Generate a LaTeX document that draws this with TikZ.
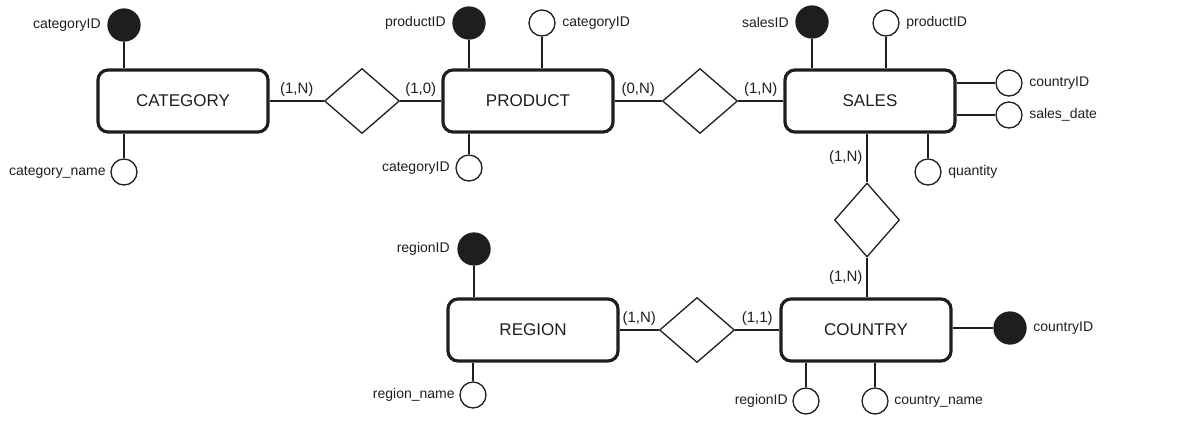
\documentclass[tikz,border=0pt]{standalone}
\usepackage{fontspec}
\setmainfont{Liberation Sans}
\usetikzlibrary{shapes.geometric,positioning}
\definecolor{ink}{HTML}{1E1E1E}

\begin{document}
\begin{tikzpicture}[x=1pt,y=-1pt,line width=1.3pt,draw=ink,text=ink,
  entity/.style={draw,line width=3.2pt,rounded corners=10pt,minimum width=170pt,minimum height=62pt,font=\fontsize{17}{19}\selectfont},
  rel/.style={draw,diamond,inner sep=0pt,minimum width=75pt,minimum height=65pt},
  keyattr/.style={circle,draw,fill=ink,inner sep=0pt,minimum size=32pt},
  attr/.style={circle,draw,inner sep=0pt,minimum size=26pt},
  lbl/.style={font=\fontsize{14}{16}\selectfont,inner sep=1pt},
  card/.style={font=\fontsize{15}{17}\selectfont,inner sep=4pt}]
  \useasboundingbox (0,0) rectangle (1182,424);

  % entities
  \node[entity] (cat) at (183,101) {CATEGORY};
  \node[entity] (prod) at (528,101) {PRODUCT};
  \node[entity] (sales) at (870,101) {SALES};
  \node[entity] (reg) at (533,330) {REGION};
  \node[entity] (ctry) at (866,330) {COUNTRY};

  % relationships
  \node[rel] (r1) at (362,101) {};
  \node[rel] (r2) at (700,101) {};
  \node[rel,minimum width=65pt,minimum height=74pt] (r3) at (867,220) {};
  \node[rel] (r4) at (697,330) {};

  \draw (cat) -- node[card,above] (c1) {(1,N)} (r1);
  \draw (r1) -- node[card,above] (c2) {(1,0)} (prod);
  \draw (prod) -- node[card,above] (c3) {(0,N)} (r2);
  \draw (r2) -- node[card,above] (c4) {(1,N)} (sales);
  \draw (sales.south -| r3) -- node[card,left] (c5) {(1,N)} (r3);
  \draw (r3) -- node[card,left] (c6) {(1,N)} (r3 |- ctry.north);
  \draw (reg) -- node[card,above] (c7) {(1,N)} (r4);
  \draw (r4) -- node[card,above] (c8) {(1,1)} (ctry);

  % category attributes
  \node[keyattr] (catk) at (124,25) {};
  \node[lbl,left=5pt of catk] (catkl) {categoryID};
  \draw (catk) -- (catk |- cat.north);
  \node[attr] (catn) at (124,172) {};
  \node[lbl,left=3pt of catn] (catnl) {category\_name};
  \draw (catn) -- (catn |- cat.south);

  % product attributes
  \node[keyattr] (prodk) at (469,23) {};
  \node[lbl,left=5pt of prodk] (prodkl) {productID};
  \draw (prodk) -- (prodk |- prod.north);
  \node[attr] (prodc) at (542,23) {};
  \node[lbl,right=5pt of prodc] (prodcl) {categoryID};
  \draw (prodc) -- (prodc |- prod.north);
  \node[attr] (prodb) at (469,168) {};
  \node[lbl,left=4pt of prodb] (prodbl) {categoryID};
  \draw (prodb) -- (prodb |- prod.south);

  % sales attributes
  \node[keyattr] (salk) at (812,22) {};
  \node[lbl,left=5pt of salk] (salkl) {salesID};
  \draw (salk) -- (salk |- sales.north);
  \node[attr] (salp) at (886,23) {};
  \node[lbl,right=5pt of salp] (salpl) {productID};
  \draw (salp) -- (salp |- sales.north);
  \node[attr] (salc) at (1009,83) {};
  \node[lbl,right=5pt of salc] (salcl) {countryID};
  \draw (salc) -- (salc -| sales.east);
  \node[attr] (sald) at (1009,115) {};
  \node[lbl,right=5pt of sald] (saldl) {sales\_date};
  \draw (sald) -- (sald -| sales.east);
  \node[attr] (salq) at (928,172) {};
  \node[lbl,right=5pt of salq] (salql) {quantity};
  \draw (salq) -- (salq |- sales.south);

  % country attributes
  \node[keyattr] (ctryk) at (1010,328) {};
  \node[lbl,right=5pt of ctryk] (ctrykl) {countryID};
  \draw (ctryk) -- (ctryk -| ctry.east);
  \node[attr] (ctryr) at (806,401) {};
  \node[lbl,left=3pt of ctryr] (ctryrl) {regionID};
  \draw (ctryr) -- (ctryr |- ctry.south);
  \node[attr] (ctryn) at (875,401) {};
  \node[lbl,right=4pt of ctryn] (ctrynl) {country\_name};
  \draw (ctryn) -- (ctryn |- ctry.south);

  % region attributes
  \node[keyattr] (regk) at (474,249) {};
  \node[lbl,left=6pt of regk] (regkl) {regionID};
  \draw (regk) -- (regk |- reg.north);
  \node[attr] (regn) at (473,395) {};
  \node[lbl,left=3pt of regn] (regnl) {region\_name};
  \draw (regn) -- (regn |- reg.south);
\end{tikzpicture}
\end{document}
